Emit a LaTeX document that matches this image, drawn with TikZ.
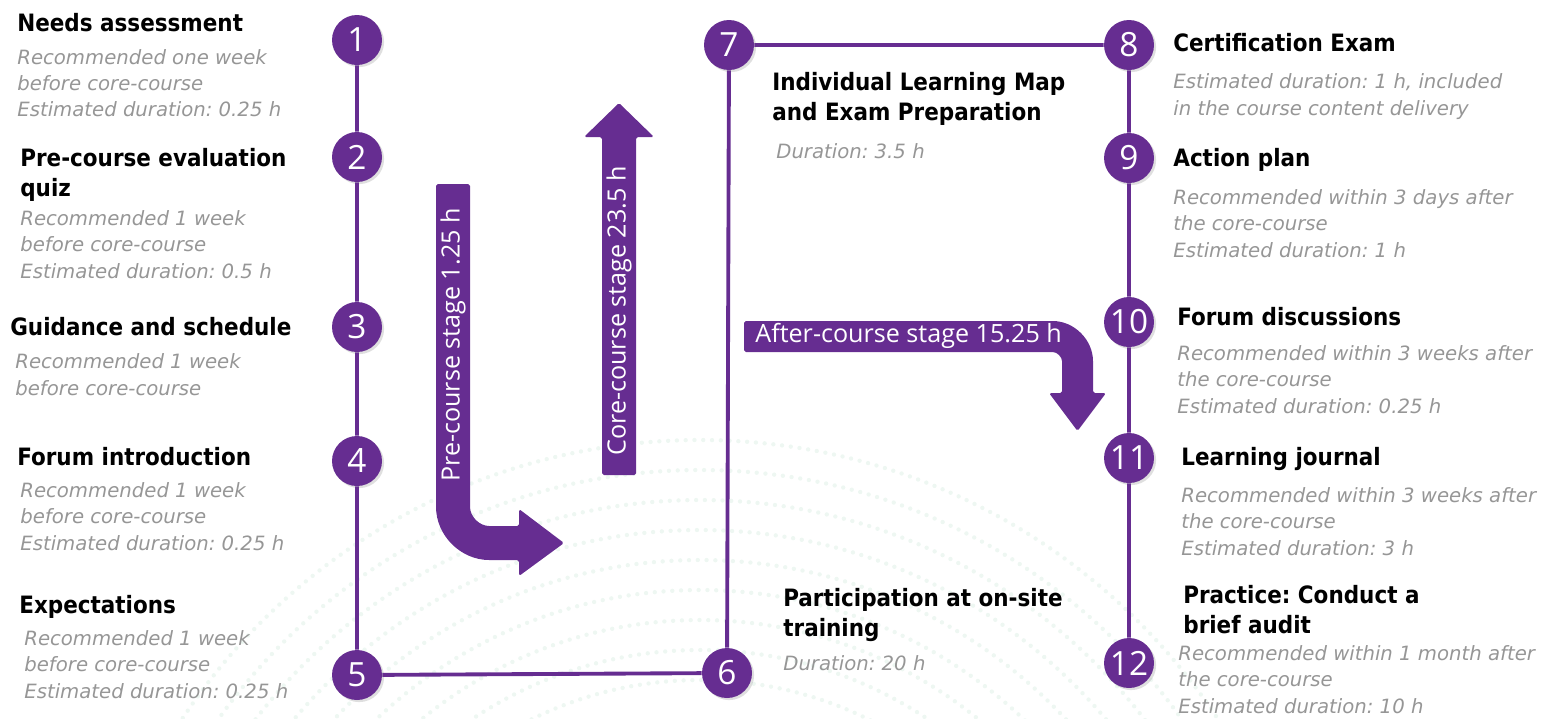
\documentclass[tikz,border=0pt]{standalone}
\usepackage{fontspec}
\newfontfamily\bodyfont{DejaVu Sans Condensed}[BoldFont={DejaVu Sans Condensed Bold},ItalicFont={DejaVu Sans Condensed Oblique}]
\newfontfamily\notefont{DejaVu Sans}[ItalicFont={DejaVu Sans Oblique}]
\newfontfamily\labelfont{Open Sans}
\frenchspacing
\usetikzlibrary{shadows}
\definecolor{stagepurple}{RGB}{102,45,145}
\definecolor{notegray}{RGB}{150,150,150}
\definecolor{dotgreen}{RGB}{205,232,218}
\tikzset{
	stepnum/.style={circle,fill=stagepurple,text=white,minimum size=1cm,inner sep=0pt,font=\labelfont\fontsize{19}{19}\selectfont,drop shadow={shadow xshift=1.2pt,shadow yshift=-1.2pt,opacity=0.25}},
	link/.style={draw=stagepurple,line width=2.2pt},
	title/.style={anchor=base west,inner sep=0pt,align=left,font=\bodyfont\bfseries\fontsize{13.6}{17}\selectfont},
	note/.style={anchor=base west,inner sep=0pt,align=left,text=notegray,font=\notefont\itshape\fontsize{11.2}{15}\selectfont},
	stage/.style={fill=stagepurple,rounded corners=1pt},
	stagetext/.style={text=white,inner sep=0pt,font=\labelfont\fontsize{14.3}{14.3}\selectfont}
}
\begin{document}
\begin{tikzpicture}[x=0.02cm,y=-0.02cm,line join=round]
	\useasboundingbox (0,0) rectangle (1550,718);
	% faint dotted rings in the background
	\begin{scope}
	\clip (0,0) rectangle (1550,718);
	\foreach \rad in {380,410,...,620}
		\draw[dotgreen,line width=2.5pt,dash pattern=on 0pt off 5pt,line cap=round,opacity=0.35] (700,1060) circle[radius=\rad];
	\end{scope}
	% stage arrows
	\fill[stage] (436,184) -- (470,184) -- (470,505) .. controls (470,516.6) and (479.4,526) .. (491,526) -- (519,526) -- (519,509) -- (564,543) -- (519,576) -- (519,560) -- (491,560) .. controls (460.6,560) and (436,535.4) .. (436,505) -- cycle;
	\fill[stage] (602,475) -- (602,137) -- (584,137) -- (619,103) -- (654,137) -- (636,137) -- (636,475) -- cycle;
	\fill[stage] (744,321) -- (1051,321) .. controls (1074.2,321) and (1093,339.8) .. (1093,363) -- (1093,393) -- (1106,393) -- (1077.5,431) -- (1049,393) -- (1062,393) -- (1062,363) .. controls (1062,356.9) and (1057.1,352) .. (1051,352) -- (744,352) -- cycle;
	\node[stagetext,rotate=90] (pre) at (453,345) {Pre-course stage 1.25 h};
	\node[stagetext,rotate=90] (core) at (619,311) {Core-course stage 23.5 h};
	\node[stagetext,anchor=west] (after) at (755,336) {After-course stage 15.25 h};
	% numbered steps
	\node[stepnum] (n1) at (357,40) {1};
	\node[stepnum] (n2) at (357,157) {2};
	\node[stepnum] (n3) at (357,327) {3};
	\node[stepnum] (n4) at (357,461) {4};
	\node[stepnum] (n5) at (357,675) {5};
	\node[stepnum] (n6) at (727,673) {6};
	\node[stepnum] (n7) at (729,45) {7};
	\node[stepnum] (n8) at (1129,45) {8};
	\node[stepnum] (n9) at (1129,158) {9};
	\node[stepnum] (n10) at (1129,322) {10};
	\node[stepnum] (n11) at (1129,458) {11};
	\node[stepnum] (n12) at (1129,663) {12};
	\draw[link] (n1) -- (n2) -- (n3) -- (n4) -- (n5) -- (n6) -- (n7) -- (n8) -- (n9) -- (n10) -- (n11) -- (n12);
	% texts of the steps (placed at the baseline of their last line)
	\node[title] (t1) at (17,31.7) {Needs assessment};
	\node[note] (d1) at (17,116.7) {Recommended one week\\before core-course\\Estimated duration: 0.25 h};
	\node[title] (t2) at (20,196.7) {Pre-course evaluation\\quiz};
	\node[note] (d2) at (20,278.3) {Recommended 1 week\\before core-course\\Estimated duration: 0.5 h};
	\node[title] (t3) at (10,335) {Guidance and schedule};
	\node[note] (d3) at (15,395) {Recommended 1 week\\before core-course};
	\node[title] (t4) at (17,465) {Forum introduction};
	\node[note] (d4) at (20,550) {Recommended 1 week\\before core-course\\Estimated duration: 0.25 h};
	\node[title] (t5) at (19,613.3) {Expectations};
	\node[note] (d5) at (24,698.3) {Recommended 1 week\\before core-course\\Estimated duration: 0.25 h};
	\node[title] (t6) at (783,636.7) {Participation at on-site\\training};
	\node[note] (d6) at (783,670) {Duration: 20 h};
	\node[title] (t7) at (772,120) {Individual Learning Map\\and Exam Preparation};
	\node[note] (d7) at (776,158.3) {Duration: 3.5 h};
	\node[title] (t8) at (1173,51.7) {Certification Exam};
	\node[note] (d8) at (1173,115) {Estimated duration: 1 h, included\\in the course content delivery};
	\node[title] (t9) at (1173,166.7) {Action plan};
	\node[note] (d9) at (1173,257.3) {Recommended within 3 days after\\the core-course\\Estimated duration: 1 h};
	\node[title] (t10) at (1177,325) {Forum discussions};
	\node[note] (d10) at (1177,413) {Recommended within 3 weeks after\\the core-course\\Estimated duration: 0.25 h};
	\node[title] (t11) at (1181,465) {Learning journal};
	\node[note] (d11) at (1181,555) {Recommended within 3 weeks after\\the core-course\\Estimated duration: 3 h};
	\node[title] (t12) at (1183,633.3) {Practice: Conduct a\\brief audit};
	\node[note] (d12) at (1178,713.3) {Recommended within 1 month after\\the core-course\\Estimated duration: 10 h};
\end{tikzpicture}
\end{document}
